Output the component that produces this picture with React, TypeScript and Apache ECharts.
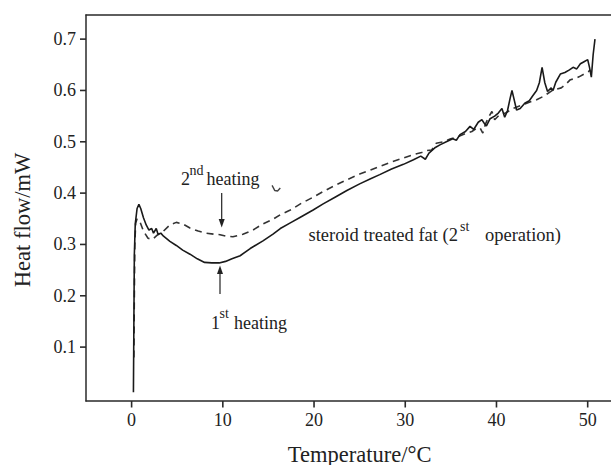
import React, { useEffect, useRef } from "react";
import * as echarts from "echarts";

const xTickValues = [0, 10, 20, 30, 40, 50];
const yTickValues = [0.1, 0.2, 0.3, 0.4, 0.5, 0.6, 0.7];

// 1st heating (solid)  [temperature °C, heat flow mW]
const firstHeating: [number, number][] = [
  [0.2, 0.012], [0.25, 0.15], [0.3, 0.28], [0.4, 0.34], [0.6, 0.37], [0.8, 0.378],
  [1.0, 0.37], [1.3, 0.352], [1.6, 0.338], [1.9, 0.328], [2.2, 0.331], [2.4, 0.322],
  [2.7, 0.331], [2.9, 0.32], [3.2, 0.322], [3.5, 0.316], [4.2, 0.306], [4.9, 0.298],
  [5.6, 0.289], [6.4, 0.281], [7.2, 0.272], [8.0, 0.265], [8.8, 0.264], [9.6, 0.264],
  [10.3, 0.267], [11.0, 0.272], [11.9, 0.278], [13.0, 0.292], [14.4, 0.307], [15.5, 0.32],
  [16.3, 0.331], [17.4, 0.342], [18.5, 0.353], [19.9, 0.367], [21.0, 0.379], [22.3, 0.392],
  [23.6, 0.405], [25.0, 0.418], [26.2, 0.428], [27.2, 0.436], [28.5, 0.447], [29.8, 0.456],
  [30.9, 0.465], [31.7, 0.472], [32.2, 0.466], [32.6, 0.478], [33.3, 0.489], [33.8, 0.494],
  [34.5, 0.5], [35.2, 0.506], [35.6, 0.503], [36.0, 0.514], [36.6, 0.52], [37.1, 0.53],
  [37.5, 0.524], [38.0, 0.538], [38.4, 0.543], [38.7, 0.535], [38.9, 0.531], [39.3, 0.545],
  [39.8, 0.55], [40.2, 0.556], [40.6, 0.565], [40.9, 0.548], [41.2, 0.56], [41.5, 0.585],
  [41.7, 0.6], [41.9, 0.585], [42.2, 0.562], [42.6, 0.565], [43.1, 0.575], [43.6, 0.58],
  [44.0, 0.59], [44.4, 0.6], [44.7, 0.615], [45.0, 0.645], [45.3, 0.615], [45.6, 0.598],
  [46.0, 0.605], [46.2, 0.6], [46.5, 0.616], [47.0, 0.632], [47.5, 0.635], [48.0, 0.64],
  [48.4, 0.645], [48.8, 0.642], [49.2, 0.652], [49.6, 0.656], [50.0, 0.66], [50.2, 0.645],
  [50.4, 0.626], [50.6, 0.67], [50.8, 0.7],
];

// 2nd heating (dashed)
const secondHeating: [number, number][] = [
  [0.25, 0.08], [0.3, 0.2], [0.35, 0.3], [0.45, 0.342], [0.6, 0.35], [0.9, 0.345],
  [1.3, 0.326], [1.8, 0.312], [2.3, 0.31], [2.8, 0.318], [3.5, 0.326], [4.2, 0.338],
  [4.9, 0.343], [5.6, 0.34], [6.4, 0.332], [7.3, 0.326], [8.2, 0.322], [9.0, 0.32],
  [9.7, 0.319], [10.4, 0.316], [11.1, 0.315], [12.2, 0.32], [13.3, 0.328], [14.4, 0.34],
  [15.5, 0.349], [16.3, 0.358], [17.4, 0.367], [18.6, 0.38], [19.9, 0.392], [21.2, 0.405],
  [22.4, 0.416], [23.6, 0.426], [25.0, 0.437], [26.2, 0.445], [27.2, 0.452], [28.5, 0.461],
  [29.7, 0.468], [30.9, 0.475], [31.8, 0.479], [32.4, 0.483], [32.9, 0.484], [33.4, 0.497],
  [34.2, 0.5], [35.0, 0.506], [35.8, 0.51], [36.6, 0.516], [37.3, 0.52], [37.8, 0.526],
  [38.2, 0.527], [38.5, 0.517], [38.8, 0.535], [39.2, 0.55], [39.5, 0.559], [39.8, 0.543],
  [40.3, 0.552], [41.0, 0.556], [41.8, 0.565], [42.9, 0.572], [43.6, 0.577], [44.4, 0.582],
  [45.1, 0.588], [45.7, 0.595], [46.2, 0.601], [47.1, 0.605], [47.6, 0.612], [48.1, 0.621],
  [48.6, 0.623], [49.1, 0.627], [49.6, 0.632], [50.1, 0.637], [50.3, 0.64],
];

// small stray trace near 16 °C
const strayMark: [number, number][] = [
  [15.4, 0.415], [15.7, 0.405], [16.0, 0.404], [16.3, 0.41],
];

const FONT = "Liberation Serif";
const INK = "#222";
const AXIS_INK = "#2a2a2a";
const X_MIN = -5;
const X_MAX = 55;
const Y_MIN = -0.005;
const Y_MAX = 0.747;
const CHART_W = 640;
const CHART_H = 465;
const GRID = { left: 86, right: 6.7, top: 15, bottom: 64 };

function label(text: string, x: number, y: number, size: number) {
  return {
    type: "text",
    x,
    y,
    silent: true,
    z: 10,
    style: {
      text,
      fontSize: size,
      fontFamily: FONT,
      fill: INK,
      textVerticalAlign: "middle",
    },
  };
}

export default function App() {
  const ref = useRef<HTMLDivElement>(null);

  useEffect(() => {
    if (!ref.current) return;
    const chart = echarts.init(ref.current, null, { renderer: "svg" });
    const axisLineStyle = { color: AXIS_INK, width: 1.5 };

    chart.setOption({
      animation: false,
      backgroundColor: "#fff",
      grid: { ...GRID, containLabel: false, outerBoundsMode: "none" },
      xAxis: [
        {
          type: "value",
          min: X_MIN,
          max: X_MAX,
          position: "bottom",
          axisLine: { show: true, onZero: false, lineStyle: axisLineStyle },
          axisTick: { show: false },
          axisLabel: {
            show: true,
            margin: 10,
            fontSize: 18,
            fontFamily: FONT,
            color: INK,
            customValues: xTickValues,
          },
          splitLine: { show: false },
          name: "Temperature/°C",
          nameLocation: "middle",
          nameGap: 42,
          nameTextStyle: { fontSize: 22.5, fontFamily: FONT, color: INK },
        },
        {
          type: "value",
          min: X_MIN,
          max: X_MAX,
          position: "top",
          axisLine: { show: true, onZero: false, lineStyle: axisLineStyle },
          axisTick: { show: false },
          axisLabel: { show: false },
          splitLine: { show: false },
        },
      ],
      yAxis: {
        type: "value",
        min: Y_MIN,
        max: Y_MAX,
        axisLine: { show: true, onZero: false, lineStyle: axisLineStyle },
        axisTick: { show: false },
        axisLabel: {
          show: true,
          margin: 10,
          fontSize: 18,
          fontFamily: FONT,
          color: INK,
          customValues: yTickValues,
          formatter: (v: number) => v.toFixed(1),
        },
        splitLine: { show: false },
      },
      series: [
        {
          name: "1st heating",
          type: "line",
          data: firstHeating,
          showSymbol: false,
          symbol: "none",
          lineStyle: { color: "#1a1a1a", width: 1.6, type: "solid" },
          z: 3,
        },
        {
          name: "2nd heating",
          type: "line",
          data: secondHeating,
          showSymbol: false,
          symbol: "none",
          lineStyle: { color: "#333", width: 1.6, type: [7, 5] },
          z: 2,
        },
        {
          name: "stray",
          type: "line",
          data: strayMark,
          showSymbol: false,
          symbol: "none",
          lineStyle: { color: "#444", width: 1.4 },
          z: 2,
        },
      ],
    });

    // tick marks at the axis tick values, positioned through the axes' scales
    const plotW = CHART_W - GRID.left - GRID.right;
    const plotH = CHART_H - GRID.top - GRID.bottom;
    const toX = (v: number) => {
      const p = chart.convertToPixel({ xAxisIndex: 0 }, v) as any;
      return Number.isFinite(p) ? p : GRID.left + ((v - X_MIN) / (X_MAX - X_MIN)) * plotW;
    };
    const toY = (v: number) => {
      const p = chart.convertToPixel({ yAxisIndex: 0 }, v) as any;
      return Number.isFinite(p) ? p : GRID.top + ((Y_MAX - v) / (Y_MAX - Y_MIN)) * plotH;
    };
    const axisLeft = toX(X_MIN);
    const axisBottom = toY(Y_MIN);
    const ticks: any[] = [];
    xTickValues.forEach((v) => {
      const px = toX(v);
      ticks.push({
        type: "rect",
        silent: true,
        z: 20,
        shape: { x: px - 0.8, y: axisBottom, width: 1.6, height: 6.5 },
        style: { fill: AXIS_INK },
      });
    });
    yTickValues.forEach((v) => {
      const py = toY(v);
      ticks.push({
        type: "rect",
        silent: true,
        z: 20,
        shape: { x: axisLeft - 6, y: py - 0.8, width: 6, height: 1.6 },
        style: { fill: AXIS_INK },
      });
    });

    chart.setOption({
      graphic: [
        {
          type: "text",
          x: 22,
          y: 220,
          rotation: Math.PI / 2,
          silent: true,
          z: 10,
          style: {
            text: "Heat flow/mW",
            fontSize: 22.5,
            fontFamily: FONT,
            fill: INK,
            textAlign: "center",
            textVerticalAlign: "middle",
          },
        },
        // 2nd heating label + arrow
        label("2", 181, 179, 18),
        label("nd", 189.5, 170, 14),
        label("heating", 206.5, 179, 18),
        { type: "line", silent: true, z: 10, shape: { x1: 221.7, y1: 193, x2: 221.7, y2: 222 }, style: { stroke: INK, lineWidth: 1.2 } },
        { type: "polygon", silent: true, z: 10, shape: { points: [[218.7, 219], [224.7, 219], [221.7, 227.5]] }, style: { fill: INK } },
        // 1st heating label + arrow
        label("1", 211, 323, 18),
        label("st", 219.5, 313, 14),
        label("heating", 234, 323, 18),
        { type: "line", silent: true, z: 10, shape: { x1: 220, y1: 294, x2: 220, y2: 272 }, style: { stroke: INK, lineWidth: 1.2 } },
        { type: "polygon", silent: true, z: 10, shape: { points: [[217, 274], [223, 274], [220, 265.5]] }, style: { fill: INK } },
        // sample annotation
        label("steroid treated fat (2", 308.5, 235, 18.5),
        label("st", 460, 226, 14),
        label("operation)", 485, 235, 18.5),
        ...ticks,
      ],
    });
    return () => chart.dispose();
  }, []);

  return (
    <div
      style={{
        position: "fixed",
        left: 0,
        top: 0,
        width: 611,
        height: 465,
        overflow: "hidden",
        background: "#fff",
      }}
    >
      <div ref={ref} style={{ width: CHART_W, height: CHART_H }} />
    </div>
  );
}
